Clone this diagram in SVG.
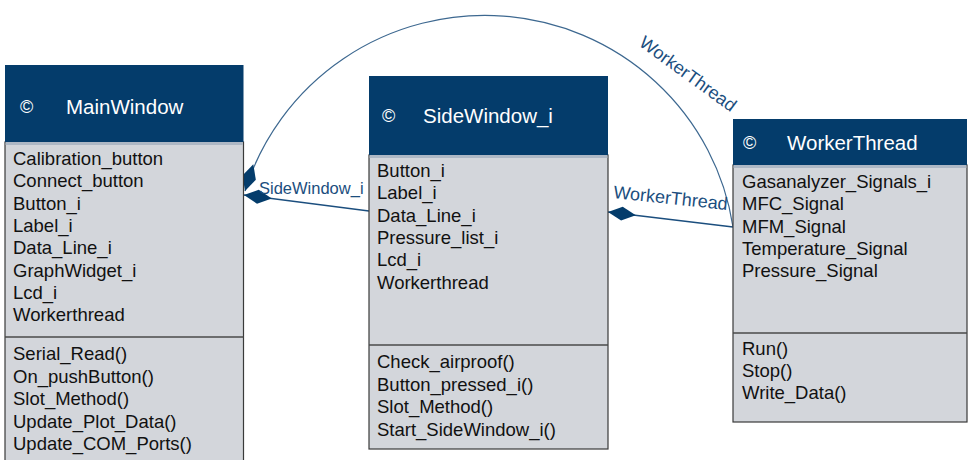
<svg xmlns="http://www.w3.org/2000/svg" width="968" height="460" viewBox="0 0 968 460">
<style>
.hdr{fill:#043c6b}
.band{fill:#aeb8c5}
.body{fill:#d3d6db;stroke:#3a3a3a;stroke-width:1.2}
.sep{stroke:#4a4a4a;stroke-width:1.5}
.title{font-family:"Liberation Sans",Arial,sans-serif;font-size:20.5px;fill:#ffffff}
.copy{font-family:"Liberation Sans",Arial,sans-serif;font-size:18px;fill:#ffffff}
.item{font-family:"Liberation Sans",Arial,sans-serif;font-size:18.5px;fill:#111111}
.conn{fill:none;stroke:#1b4e7e;stroke-width:1.3}
.arc{fill:none;stroke:#3d6890;stroke-width:1.2}
.lbl{font-family:"Liberation Sans",Arial,sans-serif;font-size:18px;fill:#1b4e7e}
.lbls{font-size:16.5px}
</style>
<defs>
<marker id="dia" markerUnits="userSpaceOnUse" markerWidth="30" markerHeight="16" viewBox="0 -8 30 16" refX="0" refY="0" orient="auto">
<path d="M0,0 L14,-7 L28,0 L14,7 Z" fill="#043c6b"/>
</marker>
</defs>
<rect width="968" height="460" fill="#ffffff"/>

<g id="connectors">
<path class="arc" d="M245,191 A251 249 0 0 1 733,227" marker-start="url(#dia)"/>
<path class="conn" d="M244,195 L369,211" marker-start="url(#dia)"/>
<path class="conn" d="M608,212 L733,227" marker-start="url(#dia)"/>
<text class="lbl lbls" x="259" y="194">SideWindow_i</text>
<text class="lbl" transform="translate(613,198) rotate(6)">WorkerThread</text>
<text class="lbl" transform="translate(638,45) rotate(36)">WorkerThread</text>
</g>

<g id="MainWindow">
<rect class="body" x="5" y="142" width="238.5" height="330"/>
<rect class="hdr" x="5" y="65" width="238.5" height="77"/>
<rect class="band" x="5.6" y="142" width="237.3" height="3"/>
<text class="copy" x="20" y="113">©</text>
<text class="title" x="66" y="114">MainWindow</text>
<text class="item" x="13" y="165">Calibration_button</text>
<text class="item" x="13" y="187.3">Connect_button</text>
<text class="item" x="13" y="209.6">Button_i</text>
<text class="item" x="13" y="231.9">Label_i</text>
<text class="item" x="13" y="254.2">Data_Line_i</text>
<text class="item" x="13" y="276.5">GraphWidget_i</text>
<text class="item" x="13" y="298.8">Lcd_i</text>
<text class="item" x="13" y="321.1">Workerthread</text>
<line class="sep" x1="5" y1="337" x2="243.5" y2="337"/>
<text class="item" x="13" y="360">Serial_Read()</text>
<text class="item" x="13" y="382.5">On_pushButton()</text>
<text class="item" x="13" y="405">Slot_Method()</text>
<text class="item" x="13" y="427.5">Update_Plot_Data()</text>
<text class="item" x="13" y="450">Update_COM_Ports()</text>
</g>

<g id="SideWindow_i">
<rect class="body" x="369" y="155" width="239" height="294"/>
<rect class="hdr" x="369" y="76" width="239" height="79"/>
<rect class="band" x="369.6" y="155" width="237.8" height="3"/>
<text class="copy" x="382" y="122">©</text>
<text class="title" x="423" y="123">SideWindow_i</text>
<text class="item" x="377" y="177">Button_i</text>
<text class="item" x="377" y="199.3">Label_i</text>
<text class="item" x="377" y="221.6">Data_Line_i</text>
<text class="item" x="377" y="243.9">Pressure_list_i</text>
<text class="item" x="377" y="266.2">Lcd_i</text>
<text class="item" x="377" y="288.5">Workerthread</text>
<line class="sep" x1="369" y1="345" x2="608" y2="345"/>
<text class="item" x="377" y="368">Check_airproof()</text>
<text class="item" x="377" y="390.7">Button_pressed_i()</text>
<text class="item" x="377" y="413.4">Slot_Method()</text>
<text class="item" x="377" y="436.1">Start_SideWindow_i()</text>
</g>

<g id="WorkerThread">
<rect class="body" x="733" y="165" width="234" height="257"/>
<rect class="hdr" x="733" y="119" width="234" height="46"/>
<rect class="band" x="733.6" y="165" width="232.8" height="3"/>
<text class="copy" x="743" y="149">©</text>
<text class="title" x="787" y="150">WorkerThread</text>
<text class="item" x="742" y="188">Gasanalyzer_Signals_i</text>
<text class="item" x="742" y="210.3">MFC_Signal</text>
<text class="item" x="742" y="232.6">MFM_Signal</text>
<text class="item" x="742" y="254.9">Temperature_Signal</text>
<text class="item" x="742" y="277.2">Pressure_Signal</text>
<line class="sep" x1="733" y1="333" x2="967" y2="333"/>
<text class="item" x="742" y="355">Run()</text>
<text class="item" x="742" y="377">Stop()</text>
<text class="item" x="742" y="399">Write_Data()</text>
</g>
</svg>
